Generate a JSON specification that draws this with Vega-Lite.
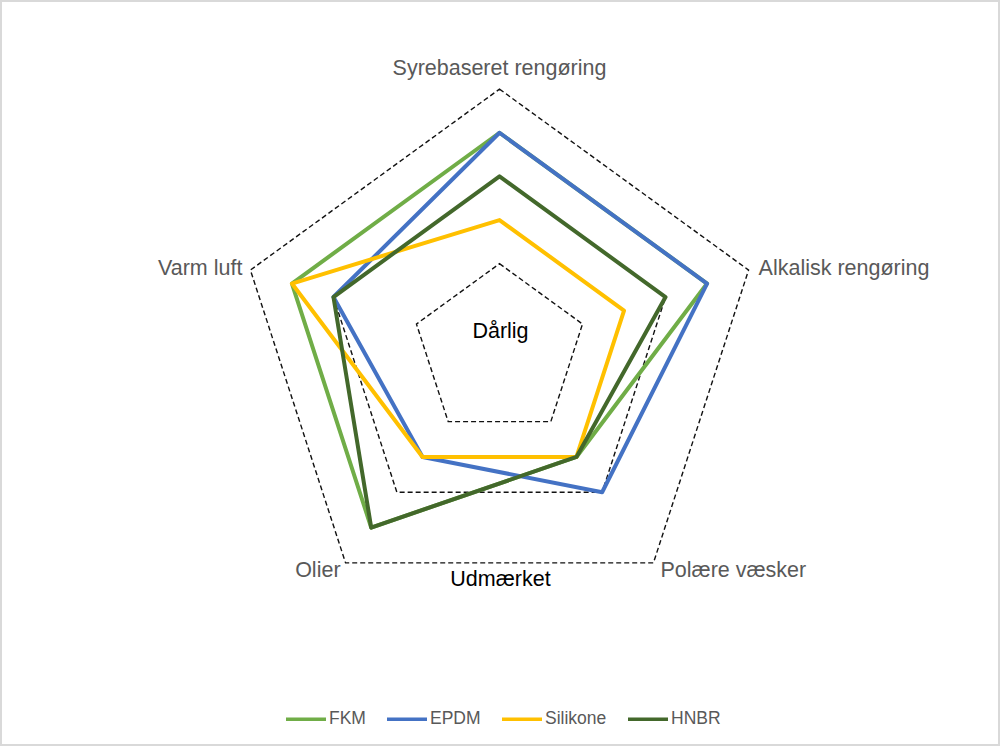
{
  "$schema": "https://vega.github.io/schema/vega-lite/v6.json",
  "width": 1000,
  "height": 746,
  "padding": 0,
  "autosize": {"type": "none"},
  "background": "white",
  "config": {
    "view": {"stroke": "#D9D9D9", "strokeWidth": 4},
    "font": "Liberation Sans"
  },
  "datasets": {
    "scores": [
      {"materiale": "FKM", "egenskab": "Syrebaseret rengøring", "score": 2.5},
      {"materiale": "FKM", "egenskab": "Alkalisk rengøring", "score": 2.5},
      {"materiale": "FKM", "egenskab": "Polære væsker", "score": 1.5},
      {"materiale": "FKM", "egenskab": "Olier", "score": 2.5},
      {"materiale": "FKM", "egenskab": "Varm luft", "score": 2.5},
      {"materiale": "EPDM", "egenskab": "Syrebaseret rengøring", "score": 2.5},
      {"materiale": "EPDM", "egenskab": "Alkalisk rengøring", "score": 2.5},
      {"materiale": "EPDM", "egenskab": "Polære væsker", "score": 2.0},
      {"materiale": "EPDM", "egenskab": "Olier", "score": 1.5},
      {"materiale": "EPDM", "egenskab": "Varm luft", "score": 2.0},
      {"materiale": "Silikone", "egenskab": "Syrebaseret rengøring", "score": 1.5},
      {"materiale": "Silikone", "egenskab": "Alkalisk rengøring", "score": 1.5},
      {"materiale": "Silikone", "egenskab": "Polære væsker", "score": 1.5},
      {"materiale": "Silikone", "egenskab": "Olier", "score": 1.5},
      {"materiale": "Silikone", "egenskab": "Varm luft", "score": 2.5},
      {"materiale": "HNBR", "egenskab": "Syrebaseret rengøring", "score": 2.0},
      {"materiale": "HNBR", "egenskab": "Alkalisk rengøring", "score": 2.0},
      {"materiale": "HNBR", "egenskab": "Polære væsker", "score": 1.5},
      {"materiale": "HNBR", "egenskab": "Olier", "score": 2.5},
      {"materiale": "HNBR", "egenskab": "Varm luft", "score": 2.0}
    ],
    "grid": [
      {"niveau": 1, "egenskab": "Syrebaseret rengøring"},
      {"niveau": 1, "egenskab": "Alkalisk rengøring"},
      {"niveau": 1, "egenskab": "Polære væsker"},
      {"niveau": 1, "egenskab": "Olier"},
      {"niveau": 1, "egenskab": "Varm luft"},
      {"niveau": 2, "egenskab": "Syrebaseret rengøring"},
      {"niveau": 2, "egenskab": "Alkalisk rengøring"},
      {"niveau": 2, "egenskab": "Polære væsker"},
      {"niveau": 2, "egenskab": "Olier"},
      {"niveau": 2, "egenskab": "Varm luft"},
      {"niveau": 3, "egenskab": "Syrebaseret rengøring"},
      {"niveau": 3, "egenskab": "Alkalisk rengøring"},
      {"niveau": 3, "egenskab": "Polære væsker"},
      {"niveau": 3, "egenskab": "Olier"},
      {"niveau": 3, "egenskab": "Varm luft"}
    ],
    "akser": [
      {"egenskab": "Syrebaseret rengøring", "niveau": 3},
      {"egenskab": "Alkalisk rengøring", "niveau": 3},
      {"egenskab": "Polære væsker", "niveau": 3},
      {"egenskab": "Olier", "niveau": 3},
      {"egenskab": "Varm luft", "niveau": 3}
    ],
    "noter": [
      {"tekst": "Dårlig", "niveau": 0},
      {"tekst": "Udmærket", "niveau": 3}
    ]
  },
  "layer": [
    {
      "data": {"name": "grid"},
      "transform": [
        {"calculate": "indexof(['Syrebaseret rengøring','Alkalisk rengøring','Polære væsker','Olier','Varm luft'], datum.egenskab)", "as": "k"},
        {"calculate": "datum.niveau * sin(datum.k * 2 * PI / 5)", "as": "px"},
        {"calculate": "datum.niveau * cos(datum.k * 2 * PI / 5)", "as": "py"}
      ],
      "mark": {"type": "line", "interpolate": "linear-closed", "color": "#111111", "strokeWidth": 1.4, "strokeDash": [5, 3]},
      "encoding": {
        "x": {"field": "px", "type": "quantitative", "scale": {"domain": [-5.7216, 5.7331], "nice": false, "zero": false}, "axis": null},
        "y": {"field": "py", "type": "quantitative", "scale": {"domain": [-4.5246, 4.0206], "nice": false, "zero": false}, "axis": null},
        "detail": {"field": "niveau", "type": "nominal"},
        "order": {"field": "k", "type": "quantitative"}
      }
    },
    {
      "data": {"name": "scores"},
      "transform": [
        {"calculate": "indexof(['Syrebaseret rengøring','Alkalisk rengøring','Polære væsker','Olier','Varm luft'], datum.egenskab)", "as": "k"},
        {"calculate": "datum.score * sin(datum.k * 2 * PI / 5)", "as": "px"},
        {"calculate": "datum.score * cos(datum.k * 2 * PI / 5)", "as": "py"}
      ],
      "mark": {"type": "line", "interpolate": "linear-closed", "strokeWidth": 4, "strokeJoin": "round"},
      "encoding": {
        "x": {"field": "px", "type": "quantitative"},
        "y": {"field": "py", "type": "quantitative"},
        "color": {
          "field": "materiale",
          "type": "nominal",
          "sort": ["FKM", "EPDM", "Silikone", "HNBR"],
          "scale": {"domain": ["FKM", "EPDM", "Silikone", "HNBR"], "range": ["#70AD47", "#4472C4", "#FFC000", "#43682B"]},
          "legend": {
            "title": null,
            "orient": "none",
            "direction": "horizontal",
            "legendX": 284,
            "legendY": 697,
            "symbolType": "stroke",
            "symbolSize": 1600,
            "symbolStrokeWidth": 3.5,
            "labelFontSize": 17.5,
            "labelColor": "#595959",
            "labelFont": "Liberation Sans",
            "labelOffset": 1,
            "columnPadding": 14
          }
        },
        "order": {"field": "k", "type": "quantitative"}
      }
    },
    {
      "data": {"name": "akser"},
      "transform": [
        {"calculate": "indexof(['Syrebaseret rengøring','Alkalisk rengøring','Polære væsker','Olier','Varm luft'], datum.egenskab)", "as": "k"},
        {"calculate": "datum.niveau * sin(datum.k * 2 * PI / 5)", "as": "px"},
        {"calculate": "datum.niveau * cos(datum.k * 2 * PI / 5)", "as": "py"}
      ],
      "layer": [
        {
          "transform": [{"filter": "datum.k == 0"}],
          "mark": {"type": "text", "align": "center", "baseline": "alphabetic", "dy": -14, "fontSize": 21.5, "color": "#595959"}
        },
        {
          "transform": [{"filter": "datum.k == 1"}],
          "mark": {"type": "text", "align": "left", "baseline": "alphabetic", "dx": 10, "dy": 5, "fontSize": 21.5, "color": "#595959"}
        },
        {
          "transform": [{"filter": "datum.k == 2"}],
          "mark": {"type": "text", "align": "left", "baseline": "alphabetic", "dx": 7, "dy": 14, "fontSize": 21.5, "color": "#595959"}
        },
        {
          "transform": [{"filter": "datum.k == 3"}],
          "mark": {"type": "text", "align": "right", "baseline": "alphabetic", "dx": -5, "dy": 14, "fontSize": 21.5, "color": "#595959"}
        },
        {
          "transform": [{"filter": "datum.k == 4"}],
          "mark": {"type": "text", "align": "right", "baseline": "alphabetic", "dx": -8, "dy": 5, "fontSize": 21.5, "color": "#595959"}
        }
      ],
      "encoding": {
        "x": {"field": "px", "type": "quantitative"},
        "y": {"field": "py", "type": "quantitative"},
        "text": {"field": "egenskab", "type": "nominal"}
      }
    },
    {
      "data": {"name": "noter"},
      "transform": [
        {"calculate": "0", "as": "px"},
        {"calculate": "-datum.niveau * cos(PI / 5)", "as": "py"}
      ],
      "layer": [
        {
          "transform": [{"filter": "datum.niveau == 0"}],
          "mark": {"type": "text", "align": "center", "baseline": "alphabetic", "dx": 1, "dy": -12.7, "fontSize": 21.5, "color": "#000000"}
        },
        {
          "transform": [{"filter": "datum.niveau == 3"}],
          "mark": {"type": "text", "align": "center", "baseline": "alphabetic", "dx": 1, "dy": 23, "fontSize": 21.5, "color": "#000000"}
        }
      ],
      "encoding": {
        "x": {"field": "px", "type": "quantitative"},
        "y": {"field": "py", "type": "quantitative"},
        "text": {"field": "tekst", "type": "nominal"}
      }
    }
  ]
}
